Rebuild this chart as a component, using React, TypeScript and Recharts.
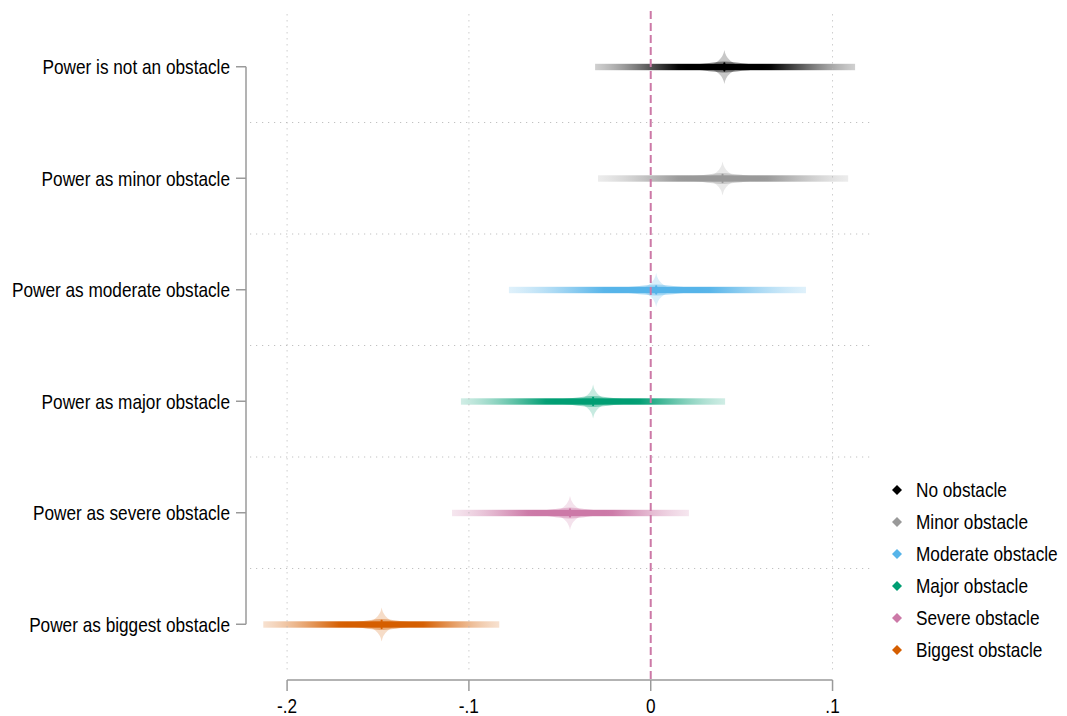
import React from "react";
import { ComposedChart, Bar, XAxis, YAxis, ReferenceLine, Legend } from "recharts";

const categories = [
  "Power is not an obstacle",
  "Power as minor obstacle",
  "Power as moderate obstacle",
  "Power as major obstacle",
  "Power as severe obstacle",
  "Power as biggest obstacle",
];
const categoryPositions = [1, 2, 3, 4, 5, 6];
const seriesLabels = [
  "No obstacle",
  "Minor obstacle",
  "Moderate obstacle",
  "Major obstacle",
  "Severe obstacle",
  "Biggest obstacle",
];
const estimates = [0.0405, 0.0395, 0.0030, -0.0317, -0.0444, -0.1480];
const lowerBounds = [-0.0306, -0.0290, -0.0780, -0.1044, -0.1093, -0.2131];
const upperBounds = [0.1124, 0.1086, 0.0854, 0.0409, 0.0210, -0.0833];
const seriesColors = ["#000000", "#999999", "#56B4E9", "#009E73", "#CC79A7", "#D55E00"];
const xTicks = [-0.2, -0.1, 0, 0.1];
const xTickLabels = ["-.2", "-.1", "0", ".1"];
const gridRows = [1.5, 2.5, 3.5, 4.5, 5.5];
const gridCols = [-0.2, -0.1, 0.1];

const FONT = "'Liberation Sans', Arial, sans-serif";
const FONT_SIZE = 21;
const NARROW = 0.82;
const AXIS_GREY = "#9a9a9a";
const GRID_GREY = "#b4b4b4";
const X_DOMAIN: [number, number] = [-0.2226, 0.1206];
const Y_DOMAIN: [number, number] = [0.5, 6.5];

const data = categories.map((name, i) => ({
  name,
  pos: categoryPositions[i],
  range: [lowerBounds[i], upperBounds[i]],
  est: estimates[i],
  color: seriesColors[i],
}));

const alphaAt = (d: number) => Math.min(1, 1.25 * Math.exp(-((1.96 * d) ** 2) / 2));

function ViolinBar(props: any) {
  const { x, y, width, height, payload, index } = props;
  if (!payload) return null;
  const lo = payload.range[0];
  const hi = payload.range[1];
  const f = (payload.est - lo) / (hi - lo);
  const px = x + f * width;
  const cy = y + height / 2;
  const color = payload.color;
  const id = `violin-grad-${index}`;
  const steps = 14;
  const stops: { o: number; a: number }[] = [];
  for (let k = 0; k <= steps; k++) {
    const t = (k / steps) * f;
    stops.push({ o: t, a: alphaAt((f - t) / f) });
  }
  for (let k = 1; k <= steps; k++) {
    const t = f + (k / steps) * (1 - f);
    stops.push({ o: t, a: alphaAt((t - f) / (1 - f)) });
  }
  const bh = 6.4;
  const lensW = Math.min(width * f, width * (1 - f)) * 0.38;
  const lens = `M ${px - lensW} ${cy} Q ${px - 6} ${cy - 5.5} ${px} ${cy - 5.5} Q ${px + 6} ${cy - 5.5} ${px + lensW} ${cy} Q ${px + 6} ${cy + 5.5} ${px} ${cy + 5.5} Q ${px - 6} ${cy + 5.5} ${px - lensW} ${cy} Z`;
  const star = `M ${px} ${cy - 17} Q ${px + 2} ${cy - 4} ${px + 20} ${cy} Q ${px + 2} ${cy + 4} ${px} ${cy + 17} Q ${px - 2} ${cy + 4} ${px - 20} ${cy} Q ${px - 2} ${cy - 4} ${px} ${cy - 17} Z`;
  return (
    <g>
      <defs>
        <linearGradient id={id} x1="0" x2="1" y1="0" y2="0">
          {stops.map((s, k) => (
            <stop key={k} offset={s.o} stopColor={color} stopOpacity={s.a} />
          ))}
        </linearGradient>
      </defs>
      <path d={star} fill={color} fillOpacity={0.22} />
      <path d={lens} fill={color} fillOpacity={0.4} />
      <rect x={x} y={cy - bh / 2} width={width} height={bh} fill={`url(#${id})`} />
      <circle cx={px} cy={cy - 3.6} r={1.1} fill={color} />
      <circle cx={px} cy={cy + 3.6} r={1.1} fill={color} />
    </g>
  );
}

function YTick(props: any) {
  const { x, y, payload } = props;
  const label = categories[categoryPositions.indexOf(payload.value)] ?? "";
  return (
    <g transform={`translate(${x},${y}) scale(${NARROW},1)`}>
      <text x={0} y={0} dy="0.355em" textAnchor="end" fontFamily={FONT} fontSize={FONT_SIZE} fill="#000">
        {label}
      </text>
    </g>
  );
}

function XTick(props: any) {
  const { x, y, payload } = props;
  const label = xTickLabels[xTicks.indexOf(payload.value)] ?? String(payload.value);
  return (
    <g transform={`translate(${x},${y}) scale(${NARROW},1)`}>
      <text x={0} y={0} dy="0.71em" textAnchor="middle" fontFamily={FONT} fontSize={FONT_SIZE} fill="#000">
        {label}
      </text>
    </g>
  );
}

const LegendContent = () => (
  <div style={{ fontFamily: FONT, fontSize: FONT_SIZE, color: "#000" }}>
    {seriesLabels.map((label, i) => (
      <div key={label} style={{ display: "flex", alignItems: "center", height: 32, whiteSpace: "nowrap" }}>
        <svg width={14} height={14} style={{ marginRight: 12 }}>
          <path d="M7 2 L12 7 L7 12 L2 7 Z" fill={seriesColors[i]} />
        </svg>
        <span style={{ display: "inline-block", transform: `scaleX(${NARROW})`, transformOrigin: "left center" }}>
          {label}
        </span>
      </div>
    ))}
  </div>
);

export default function App() {
  return (
    <div style={{ position: "absolute", left: 0, top: 0, background: "#fff" }}>
      <ComposedChart
        layout="vertical"
        width={1067}
        height={716}
        data={data}
        margin={{ top: 11, right: 197, bottom: 0, left: 0 }}
      >
        <XAxis
          type="number"
          domain={X_DOMAIN}
          allowDataOverflow
          ticks={xTicks}
          interval={0}
          axisLine={false}
          tickLine={{ stroke: AXIS_GREY, strokeWidth: 1.5 }}
          tickSize={11}
          tickMargin={7}
          tick={<XTick />}
          height={36}
        />
        <YAxis
          type="number"
          dataKey="pos"
          domain={Y_DOMAIN}
          allowDataOverflow
          ticks={categoryPositions}
          interval={0}
          width={246}
          axisLine={false}
          tickLine={{ stroke: AXIS_GREY, strokeWidth: 1.5 }}
          tickSize={10}
          tickMargin={6}
          tick={<YTick />}
        />
        {gridRows.map((r) => (
          <ReferenceLine
            key={`row-${r}`}
            ifOverflow="visible"
            segment={[{ x: -0.2203, y: r }, { x: X_DOMAIN[1], y: r }]}
            stroke={GRID_GREY}
            strokeDasharray="1 5"
          />
        ))}
        {gridCols.map((c) => (
          <ReferenceLine
            key={`col-${c}`}
            ifOverflow="visible"
            segment={[{ x: c, y: 0.53 }, { x: c, y: 6.44 }]}
            stroke={GRID_GREY}
            strokeDasharray="1 5"
          />
        ))}
        <ReferenceLine
          ifOverflow="visible"
          segment={[{ x: 0, y: Y_DOMAIN[0] }, { x: 0, y: Y_DOMAIN[1] }]}
          stroke="#CC79A7"
          strokeWidth={2}
          strokeDasharray="8 4"
        />
        <ReferenceLine
          ifOverflow="visible"
          segment={[{ x: X_DOMAIN[0], y: categoryPositions[0] }, { x: X_DOMAIN[0], y: categoryPositions[5] }]}
          stroke={AXIS_GREY}
          strokeWidth={1.5}
        />
        <ReferenceLine
          ifOverflow="visible"
          segment={[{ x: xTicks[0], y: Y_DOMAIN[1] }, { x: xTicks[3], y: Y_DOMAIN[1] }]}
          stroke={AXIS_GREY}
          strokeWidth={1.5}
        />
        <Bar dataKey="range" barSize={20} shape={ViolinBar} isAnimationActive={false} />
        <Legend
          layout="vertical"
          align="center"
          verticalAlign="middle"
          content={LegendContent}
          wrapperStyle={{ left: 890, top: 474, width: "auto" }}
        />
      </ComposedChart>
    </div>
  );
}
